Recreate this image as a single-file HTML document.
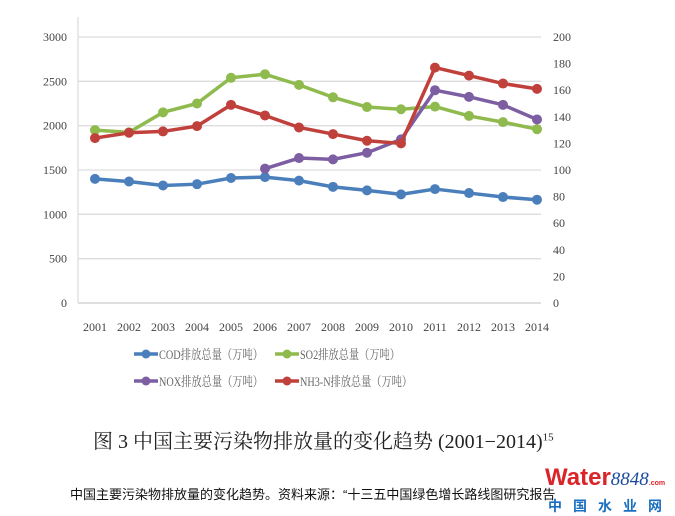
<!DOCTYPE html>
<html><head><meta charset="utf-8">
<style>
body{margin:0;background:#fff;width:675px;height:516px;overflow:hidden;position:relative;font-family:"Liberation Serif","Noto Serif CJK SC",serif}
svg{position:absolute;left:0;top:0}
.t{font-size:12px;fill:#444}
.lg{font-size:13px;fill:#666}
</style></head><body>
<svg id="c" width="675" height="516"></svg>
<div style="position:absolute;left:93px;top:425px;font-size:20px;color:#222;font-family:'Liberation Serif','Noto Serif CJK SC',serif;white-space:nowrap">图 3 中国主要污染物排放量的变化趋势 (2001−2014)<sup style="font-size:11px">15</sup></div>
<div style="position:absolute;left:70px;top:484px;font-size:13px;color:#111;font-family:'Liberation Sans','Noto Sans CJK SC',sans-serif;white-space:nowrap">中国主要污染物排放量的变化趋势。资料来源：“十三五中国绿色增长路线图研究报告</div>
<div style="position:absolute;left:545px;top:466px;width:130px;height:50px;white-space:nowrap">
<div style="font-family:'Liberation Sans',sans-serif;font-weight:bold;font-size:24px;color:#d9252a;line-height:24px">Water<span style="font-family:'Liberation Serif',serif;font-style:italic;font-weight:normal;font-size:19px;color:#1a4aa0">8848</span><span style="font-size:7px;color:#d9252a">.com</span></div>
<div style="font-family:'Noto Sans CJK SC',sans-serif;font-weight:bold;font-size:14px;line-height:18px;color:#1a6fc0;letter-spacing:11px;margin-top:1px;margin-left:3px">中国水业网</div>
</div>
<script>
const years=["2001","2002","2003","2004","2005","2006","2007","2008","2009","2010","2011","2012","2013","2014"];
const leftTicks=[0,500,1000,1500,2000,2500,3000];
const rightTicks=[0,20,40,60,80,100,120,140,160,180,200];
const cod=[1400,1370,1325,1340,1410,1420,1380,1310,1270,1225,1285,1240,1195,1165];
const so2=[1950,1925,2150,2250,2540,2580,2460,2320,2210,2185,2215,2110,2040,1960];
const nox=[null,null,null,null,null,101,109,108,113,123,160,155,149,138];
const nh3=[124,128,129,133,149,141,132,127,122,120,177,171,165,161];
const svg=document.getElementById('c');const NS='http://www.w3.org/2000/svg';
function mk(t,a,p){const e=document.createElementNS(NS,t);for(const k in a)e.setAttribute(k,a[k]);(p||svg).appendChild(e);return e;}
const X0=95,DX=34,L=78,R=541,T=37,B=303;
const x=i=>X0+i*DX;
const yl=v=>B-(v/3000)*(B-T);
const yr=v=>B-(v/200)*(B-T);
leftTicks.forEach(v=>{
 const g=mk('line',{x1:L,x2:R,y1:yl(v),y2:yl(v),stroke:v==0?'#ccc':'#ddd','stroke-width':1.3});
 
 const t=mk('text',{x:67,y:yl(v)+4,'text-anchor':'end',class:'t'});t.textContent=v;
 
});
const ax=mk('line',{x1:L,x2:L,y1:T-20,y2:B,stroke:'#ddd','stroke-width':1.3});

rightTicks.forEach(v=>{
 const t=mk('text',{x:553,y:yr(v)+4,class:'t'});t.textContent=v;
 
});
years.forEach((yv,i)=>{
 const t=mk('text',{x:x(i),y:331,'text-anchor':'middle',class:'t'});t.textContent=yv;
 
});
function series(vals,fy,col,name){
 let d='';vals.forEach((v,i)=>{if(v==null)return;d+=(d?'L':'M')+x(i)+','+fy(v);});
 const p=mk('path',{d:d,fill:'none',stroke:col,'stroke-width':3.5,'stroke-linejoin':'round'});
 
 vals.forEach((v,i)=>{if(v==null)return;
  const c=mk('circle',{cx:x(i),cy:fy(v),r:5,fill:col});
  });
}
series(so2,yl,'#8fba4d','so2');
series(cod,yl,'#4a7fbc','cod');
series(nox,yr,'#7d5ea3','nox');
series(nh3,yr,'#c0413c','nh3n');
const leg=[["COD排放总量（万吨）",'#4a7fbc',134,354,104],["SO2排放总量（万吨）",'#8fba4d',275,354,100],["NOX排放总量（万吨）",'#7d5ea3',134,381,104],["NH3-N排放总量（万吨）",'#c0413c',275,381,112]];
leg.forEach(l=>{
 const g=mk('g',{});
 mk('line',{x1:l[2],x2:l[2]+24,y1:l[3],y2:l[3],stroke:l[1],'stroke-width':3.5},g);
 mk('circle',{cx:l[2]+12,cy:l[3],r:4.5,fill:l[1]},g);
 const t=mk('text',{x:l[2]+25,y:l[3]+5,class:'lg',textLength:l[4],lengthAdjust:'spacingAndGlyphs'},g);t.textContent=l[0];
});
</script>
</body></html>
